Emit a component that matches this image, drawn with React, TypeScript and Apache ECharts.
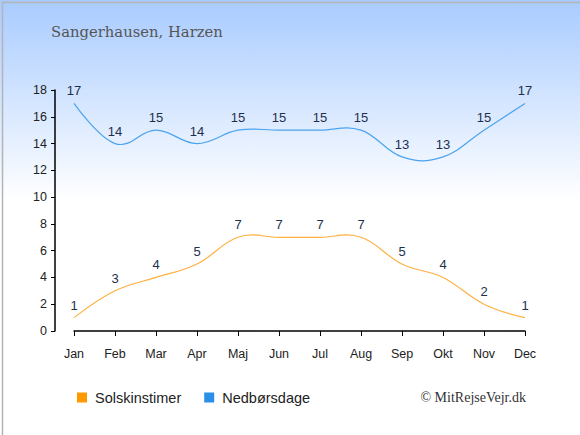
import React, { useEffect, useRef } from "react";
import * as echarts from "echarts";

const months = ["Jan", "Feb", "Mar", "Apr", "Maj", "Jun", "Jul", "Aug", "Sep", "Okt", "Nov", "Dec"];
const sunHours = [1, 3, 4, 5, 7, 7, 7, 7, 5, 4, 2, 1];
const rainDays = [17, 14, 15, 14, 15, 15, 15, 15, 13, 13, 15, 17];
const yTicks = { min: 0, max: 18, interval: 2 };

const FONT = "Liberation Sans, Arial, sans-serif";

// spline segment i -> i+1: tangent parallel to the neighbours' chord, control distance 0.4 step
function makeRenderItem(values: number[], color: string) {
  const k = 0.4;
  const n = values.length;
  return (params: any, api: any) => {
    const i = params.dataIndex;
    if (i >= n - 1) return null;
    const P = (j: number) => api.coord([j, values[j]]);
    const p0 = P(i);
    const p1 = P(i + 1);
    let q1 = p0;
    if (i > 0) {
      const a = P(i - 1);
      q1 = [p0[0] + (k * (p1[0] - a[0])) / 2, p0[1] + (k * (p1[1] - a[1])) / 2];
    }
    let q2 = p1;
    if (i + 1 < n - 1) {
      const b = P(i + 2);
      q2 = [p1[0] - (k * (b[0] - p0[0])) / 2, p1[1] - (k * (b[1] - p0[1])) / 2];
    }
    return {
      type: "bezierCurve",
      shape: {
        x1: p0[0], y1: p0[1],
        cpx1: q1[0], cpy1: q1[1],
        cpx2: q2[0], cpy2: q2[1],
        x2: p1[0], y2: p1[1],
      },
      style: { stroke: color, lineWidth: 1.2, fill: "none" },
      silent: true,
    };
  };
}

export default function App() {
  const ref = useRef<HTMLDivElement>(null);
  useEffect(() => {
    if (!ref.current) return;
    const chart = echarts.init(ref.current, undefined, { renderer: "svg" });
    const labelStyle = {
      show: true,
      position: "top" as const,
      distance: 6,
      color: "#1e2f4d",
      fontSize: 13,
      fontFamily: FONT,
    };
    chart.setOption({
      animation: false,
      backgroundColor: {
        type: "linear",
        x: 0, y: 0, x2: 0, y2: 1,
        colorStops: [
          { offset: 0, color: "#a8cbff" },
          { offset: 0.46, color: "#ffffff" },
          { offset: 1, color: "#ffffff" },
        ],
      },
      graphic: [
        {
          type: "rect",
          left: 0, top: 0,
          shape: { x: 0.75, y: 0.75, width: 578.5, height: 433.5 },
          style: { fill: "none", stroke: "#b4b4b4", lineWidth: 1.5 },
          silent: true,
        },
        {
          type: "text",
          left: 51, top: 24,
          style: {
            text: "Sangerhausen, Harzen",
            fill: "#555555",
            font: "14.8px 'DejaVu Serif', 'Liberation Serif', serif",
          },
        },
        {
          type: "text",
          right: 54, top: 390,
          style: {
            text: "© MitRejseVejr.dk",
            fill: "#333333",
            font: "14px 'Liberation Serif', 'DejaVu Serif', serif",
          },
        },
      ],
      legend: {
        left: 77,
        top: 390,
        padding: 0,
        icon: "rect",
        itemWidth: 10,
        itemHeight: 10,
        itemGap: 23,
        textStyle: { fontSize: 14.5, color: "#222", fontFamily: FONT, padding: [0, 0, 0, 3] },
        data: [
          { name: "Solskinstimer", itemStyle: { color: "#ff9900" } },
          { name: "Nedbørsdage", itemStyle: { color: "#2b8fe8" } },
        ],
      },
      grid: { left: 74, right: 55, top: 90, bottom: 104, containLabel: false },
      xAxis: {
        type: "category",
        data: months,
        boundaryGap: false,
        offset: 10,
        axisLine: { lineStyle: { color: "#000", width: 1.5 } },
        axisTick: { alignWithLabel: true, length: 5, lineStyle: { color: "#000" } },
        axisLabel: { color: "#222", fontSize: 12.5, margin: 6, fontFamily: FONT },
        splitLine: { show: false },
      },
      yAxis: {
        type: "value",
        min: yTicks.min,
        max: yTicks.max,
        interval: yTicks.interval,
        offset: 19,
        axisLine: { show: true, lineStyle: { color: "#000", width: 1.5 } },
        axisTick: { show: true, length: 4, lineStyle: { color: "#000" } },
        axisLabel: { color: "#222", fontSize: 12.5, margin: 8, fontFamily: FONT },
        splitLine: { show: false },
      },
      series: [
        {
          name: "sunCurve",
          type: "custom",
          data: sunHours.map((v, i) => [i, v]),
          renderItem: makeRenderItem(sunHours, "#ffb040"),
          silent: true,
          z: 2,
        },
        {
          name: "rainCurve",
          type: "custom",
          data: rainDays.map((v, i) => [i, v]),
          renderItem: makeRenderItem(rainDays, "#4aa3ef"),
          silent: true,
          z: 2,
        },
        {
          name: "Solskinstimer",
          type: "line",
          data: sunHours,
          symbol: "circle",
          symbolSize: 0,
          lineStyle: { opacity: 0 },
          itemStyle: { color: "#ff9900" },
          label: labelStyle,
          z: 3,
        },
        {
          name: "Nedbørsdage",
          type: "line",
          data: rainDays,
          symbol: "circle",
          symbolSize: 0,
          lineStyle: { opacity: 0 },
          itemStyle: { color: "#2b8fe8" },
          label: labelStyle,
          z: 3,
        },
      ],
    });
    return () => chart.dispose();
  }, []);
  return <div ref={ref} style={{ position: "fixed", left: 0, top: 0, width: 580, height: 435 }} />;
}
